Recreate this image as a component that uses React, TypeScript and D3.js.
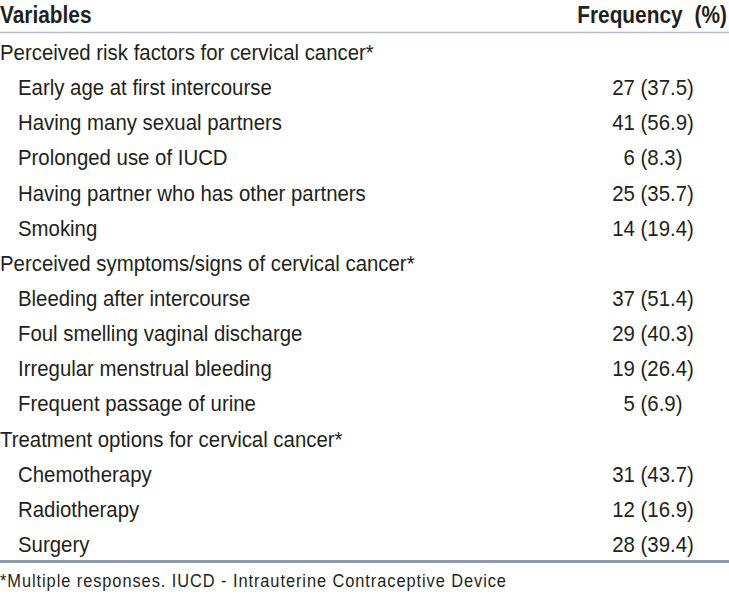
import React, { useEffect, useRef } from "react";
import * as d3 from "d3";

const headers = ["Variables", "Frequency (%)"];
const sections = [
  "Perceived risk factors for cervical cancer*",
  "Perceived symptoms/signs of cervical cancer*",
  "Treatment options for cervical cancer*",
];
const riskItems = [
  "Early age at first intercourse",
  "Having many sexual partners",
  "Prolonged use of IUCD",
  "Having partner who has other partners",
  "Smoking",
];
const riskCounts = [27, 41, 6, 25, 14];
const riskPcts = ["37.5", "56.9", "8.3", "35.7", "19.4"];
const symptomItems = [
  "Bleeding after intercourse",
  "Foul smelling vaginal discharge",
  "Irregular menstrual bleeding",
  "Frequent passage of urine",
];
const symptomCounts = [37, 29, 19, 5];
const symptomPcts = ["51.4", "40.3", "26.4", "6.9"];
const treatmentItems = ["Chemotherapy", "Radiotherapy", "Surgery"];
const treatmentCounts = [31, 12, 28];
const treatmentPcts = ["43.7", "16.9", "39.4"];
const footnote = "*Multiple responses. IUCD - Intrauterine Contraceptive Device";

const W = 729;
const H = 594;
const FONT = "'Liberation Sans', Arial, Helvetica, sans-serif";
const TEXT = "#231f20";
const SX = 0.887; // horizontal condensing to mimic a narrow face

type Row = { label: string; value: string; section: boolean };

function buildRows(): Row[] {
  const groups = [
    [riskItems, riskCounts, riskPcts],
    [symptomItems, symptomCounts, symptomPcts],
    [treatmentItems, treatmentCounts, treatmentPcts],
  ] as [string[], number[], string[]][];
  const rows: Row[] = [];
  groups.forEach(([items, counts, pcts], g) => {
    rows.push({ label: sections[g], value: "", section: true });
    items.forEach((it, i) =>
      rows.push({ label: it, value: `${counts[i]} (${pcts[i]})`, section: false })
    );
  });
  return rows;
}

export default function App() {
  const ref = useRef<SVGSVGElement | null>(null);
  useEffect(() => {
    const svg = d3.select(ref.current);
    svg.selectAll("*").remove();
    const rows = buildRows();
    // baselines: 60 + i * 35.14
    const y = d3
      .scalePoint<number>()
      .domain(d3.range(rows.length))
      .range([60, 60 + (rows.length - 1) * 35.14]);

    svg
      .append("line")
      .attr("x1", 0)
      .attr("x2", W)
      .attr("y1", 32.5)
      .attr("y2", 32.5)
      .attr("stroke", "#b4bcc8")
      .attr("stroke-width", 1.6);
    svg
      .append("line")
      .attr("x1", 0)
      .attr("x2", W)
      .attr("y1", 561.5)
      .attr("y2", 561.5)
      .attr("stroke", "#8c9aab")
      .attr("stroke-width", 3);

    const t = svg.append("g").attr("transform", `scale(${SX},1)`);
    const X = (px: number) => px / SX;

    // header
    t.append("text")
      .attr("x", X(0))
      .attr("y", 23.3)
      .attr("font-family", FONT)
      .attr("font-weight", "bold")
      .attr("font-size", 23.5)
      .attr("fill", TEXT)
      .text(headers[0]);
    t.append("text")
      .attr("x", X(727))
      .attr("y", 23.3)
      .attr("text-anchor", "end")
      .attr("font-family", FONT)
      .attr("font-weight", "bold")
      .attr("font-size", 23.5)
      .attr("fill", TEXT)
      .attr("word-spacing", 7)
      .text(headers[1]);

    const rowG = t
      .selectAll("g.row")
      .data(rows)
      .join("g")
      .attr("class", "row")
      .attr("transform", (_d, i) => `translate(0,${y(i) as number})`);
    rowG
      .append("text")
      .attr("x", (d) => X(d.section ? 0 : 18))
      .attr("y", 0)
      .attr("font-family", FONT)
      .attr("font-size", 23)
      .attr("fill", TEXT)
      .text((d) => d.label);
    rowG
      .append("text")
      .attr("x", X(653))
      .attr("y", 0)
      .attr("text-anchor", "middle")
      .attr("font-family", FONT)
      .attr("font-size", 23)
      .attr("fill", TEXT)
      .text((d) => d.value);

    t.append("text")
      .attr("x", X(0))
      .attr("y", 586.7)
      .attr("font-family", FONT)
      .attr("font-size", 18.5)
      .attr("fill", TEXT)
      .attr("textLength", X(506))
      .attr("lengthAdjust", "spacing")
      .text(footnote);
  }, []);
  return (
    <svg
      ref={ref}
      width={W}
      height={H}
      style={{ position: "absolute", left: 0, top: 0, background: "#fff" }}
    />
  );
}
